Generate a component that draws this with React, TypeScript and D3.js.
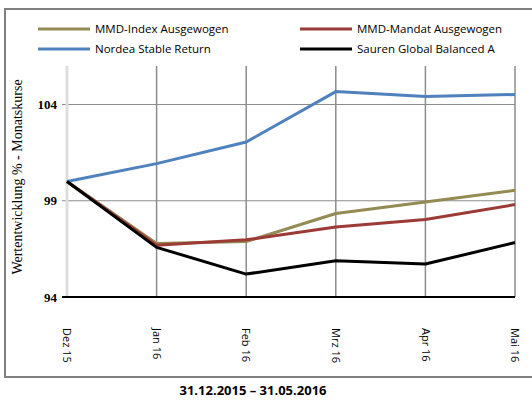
import { useEffect, useRef } from "react";
import * as d3 from "d3";

const months = ["Dez 15", "Jan 16", "Feb 16", "Mrz 16", "Apr 16", "Mai 16"];
const mmdIndex = [100, 96.78, 96.88, 98.34, 98.94, 99.54];
const mmdMandat = [100, 96.69, 96.97, 97.64, 98.03, 98.8];
const nordea = [100, 100.93, 102.05, 104.67, 104.41, 104.52];
const sauren = [100, 96.58, 95.19, 95.88, 95.71, 96.83];
const yTicks = [94, 99, 104];

const series = [
  { name: "MMD-Index Ausgewogen", values: mmdIndex, color: "#948A54" },
  { name: "MMD-Mandat Ausgewogen", values: mmdMandat, color: "#9C3A36" },
  { name: "Nordea Stable Return", values: nordea, color: "#4F81BD" },
  { name: "Sauren Global Balanced A", values: sauren, color: "#000000" },
];

const width = 532;
const height = 400;
const margin = { top: 66, right: 17, bottom: 103, left: 67 };

export default function App() {
  const svgRef = useRef(null);

  useEffect(() => {
    const svg = d3.select(svgRef.current);
    svg.selectAll("*").remove();

    const x = d3
      .scalePoint()
      .domain(months)
      .range([margin.left, width - margin.right]);
    const y = d3
      .scaleLinear()
      .domain([94, 106])
      .range([height - margin.bottom, margin.top]);

    // outer frame
    svg
      .append("rect")
      .attr("x", 5)
      .attr("y", 9)
      .attr("width", 540)
      .attr("height", 368)
      .attr("fill", "white")
      .attr("stroke", "#808080")
      .attr("stroke-width", 2);

    // horizontal grid
    svg
      .selectAll("line.hgrid")
      .data(yTicks.filter((t) => t !== 94))
      .join("line")
      .attr("class", "hgrid")
      .attr("x1", margin.left - 5)
      .attr("x2", width - margin.right)
      .attr("y1", (d) => y(d))
      .attr("y2", (d) => y(d))
      .attr("stroke", "#8c8c8c")
      .attr("stroke-width", 1);

    // vertical grid
    svg
      .selectAll("line.vgrid")
      .data(months.slice(1))
      .join("line")
      .attr("class", "vgrid")
      .attr("x1", (d) => x(d))
      .attr("x2", (d) => x(d))
      .attr("y1", y(106))
      .attr("y2", y(94))
      .attr("stroke", "#8c8c8c")
      .attr("stroke-width", 1.5);

    // left axis line
    svg
      .append("line")
      .attr("x1", x(months[0]))
      .attr("x2", x(months[0]))
      .attr("y1", y(106))
      .attr("y2", y(94))
      .attr("stroke", "#dedede")
      .attr("stroke-width", 3);

    // y tick labels
    svg
      .selectAll("text.ytick")
      .data(yTicks)
      .join("text")
      .attr("class", "ytick")
      .attr("x", margin.left - 10)
      .attr("y", (d) => y(d))
      .attr("dy", "0.35em")
      .attr("text-anchor", "end")
      .attr("font-family", "Liberation Serif, serif")
      .attr("font-weight", "bold")
      .attr("font-size", 13)
      .text((d) => d);

    // y axis title
    svg
      .append("text")
      .attr("transform", `translate(22,${177}) rotate(-90)`)
      .attr("text-anchor", "middle")
      .attr("font-family", "Liberation Serif, serif")
      .attr("font-size", 14)
      .text("Wertentwicklung % - Monatskurse");

    // x tick labels (rotated)
    svg
      .selectAll("text.xtick")
      .data(months)
      .join("text")
      .attr("class", "xtick")
      .attr("transform", (d) => `translate(${x(d)},328) rotate(90)`)
      .attr("dy", "0.35em")
      .attr("text-anchor", "start")
      .attr("font-family", "Open Sans, sans-serif")
      .attr("font-size", 11)
      .text((d) => d);

    const line = d3
      .line()
      .x((d, i) => x(months[i]))
      .y((d) => y(d));

    svg
      .selectAll("path.series")
      .data(series)
      .join("path")
      .attr("class", "series")
      .attr("d", (d) => line(d.values))
      .attr("fill", "none")
      .attr("stroke", (d) => d.color)
      .attr("stroke-width", 3)
      .attr("stroke-linejoin", "round");

    // bottom axis at 94
    svg
      .append("line")
      .attr("x1", margin.left - 5)
      .attr("x2", width - margin.right)
      .attr("y1", y(94))
      .attr("y2", y(94))
      .attr("stroke", "#000")
      .attr("stroke-width", 2);

    // legend
    const legend = svg
      .selectAll("g.legend")
      .data(series)
      .join("g")
      .attr("class", "legend")
      .attr(
        "transform",
        (d, i) => `translate(${i % 2 === 0 ? 38 : 300},${i < 2 ? 29 : 49})`
      );
    legend
      .append("line")
      .attr("x1", 0)
      .attr("x2", 52)
      .attr("stroke", (d) => d.color)
      .attr("stroke-width", 3);
    legend
      .append("text")
      .attr("x", 57)
      .attr("dy", "0.35em")
      .attr("font-family", "Open Sans, sans-serif")
      .attr("font-size", 11.5)
      .text((d) => d.name);

    // period caption
    svg
      .append("text")
      .attr("x", 253)
      .attr("y", 395)
      .attr("text-anchor", "middle")
      .attr("font-family", "Open Sans, sans-serif")
      .attr("font-weight", "bold")
      .attr("font-size", 13)
      .text("31.12.2015 – 31.05.2016");
  }, []);

  return (
    <svg
      ref={svgRef}
      width={width}
      height={height}
      style={{ position: "absolute", left: 0, top: 0, background: "white" }}
    ></svg>
  );
}
